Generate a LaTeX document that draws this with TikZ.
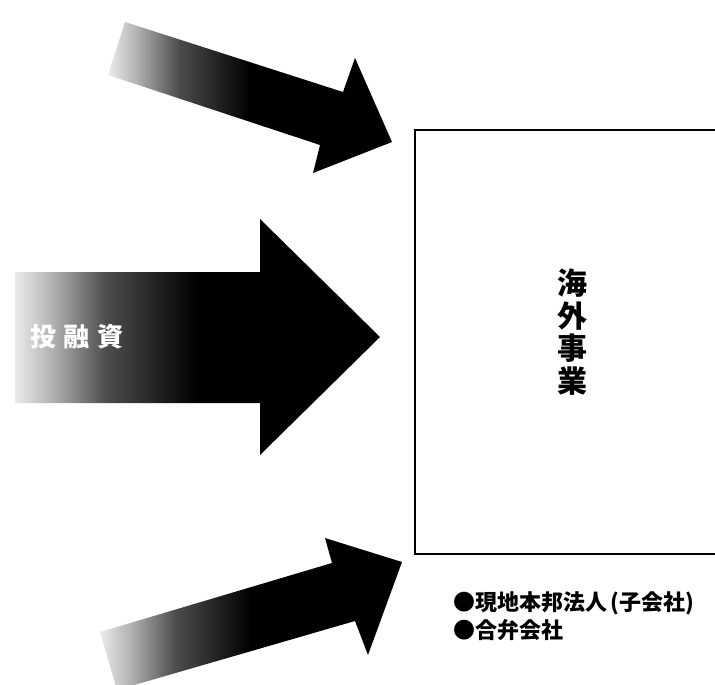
\documentclass[tikz,border=0pt]{standalone}
\usepackage{fontspec}
\newfontfamily\jpfont{Noto Sans CJK JP}
\usetikzlibrary{positioning}
\pgfdeclarehorizontalshading{fade}{100bp}{color(0bp)=(black!8); color(25bp)=(black!8); color(30bp)=(black!30); color(37.5bp)=(black!70); color(50bp)=(black); color(100bp)=(black)}
\tikzset{bigarrow/.style={shading=fade, draw=none}}

\begin{document}
\begin{tikzpicture}[x=1pt, y=-1pt]
\useasboundingbox (0,0) rectangle (715,685);
\clip (0,0) rectangle (715,685);
% arrows
\shade[bigarrow] (125,22) -- (343,92) -- (355,58) -- (392,142) -- (313,173) -- (320,145) -- (108,75) -- cycle;
\shade[bigarrow] (15,272) -- (260,272) -- (260,219) -- (380,337) -- (260,455) -- (260,403) -- (15,403) -- cycle;
\shade[bigarrow] (100,632) -- (332,563) -- (325,538) -- (402,562) -- (368,655) -- (355,621) -- (117,690) -- cycle;
\node[text=white, font=\jpfont\bfseries\fontsize{26}{26}\selectfont, inner sep=0pt] (loan) at (77,337) {投\hspace{8pt}融\hspace{8pt}資};
% box
\node[draw, line width=1.5pt, anchor=north west, minimum width=340pt, minimum height=424pt, inner sep=0pt] (biz) at (414,129) {};
\node[font=\jpfont\bfseries\fontsize{30}{32.5}\selectfont, align=center, inner sep=0pt] (title) at (572,332) {海\\外\\事\\業};
\node[font=\jpfont\bfseries\fontsize{22}{28}\selectfont, align=left, anchor=west, inner sep=0pt] (list) at (453,616) {●現地本邦法人\,(子会社)\\●合弁会社};
\end{tikzpicture}
\end{document}
